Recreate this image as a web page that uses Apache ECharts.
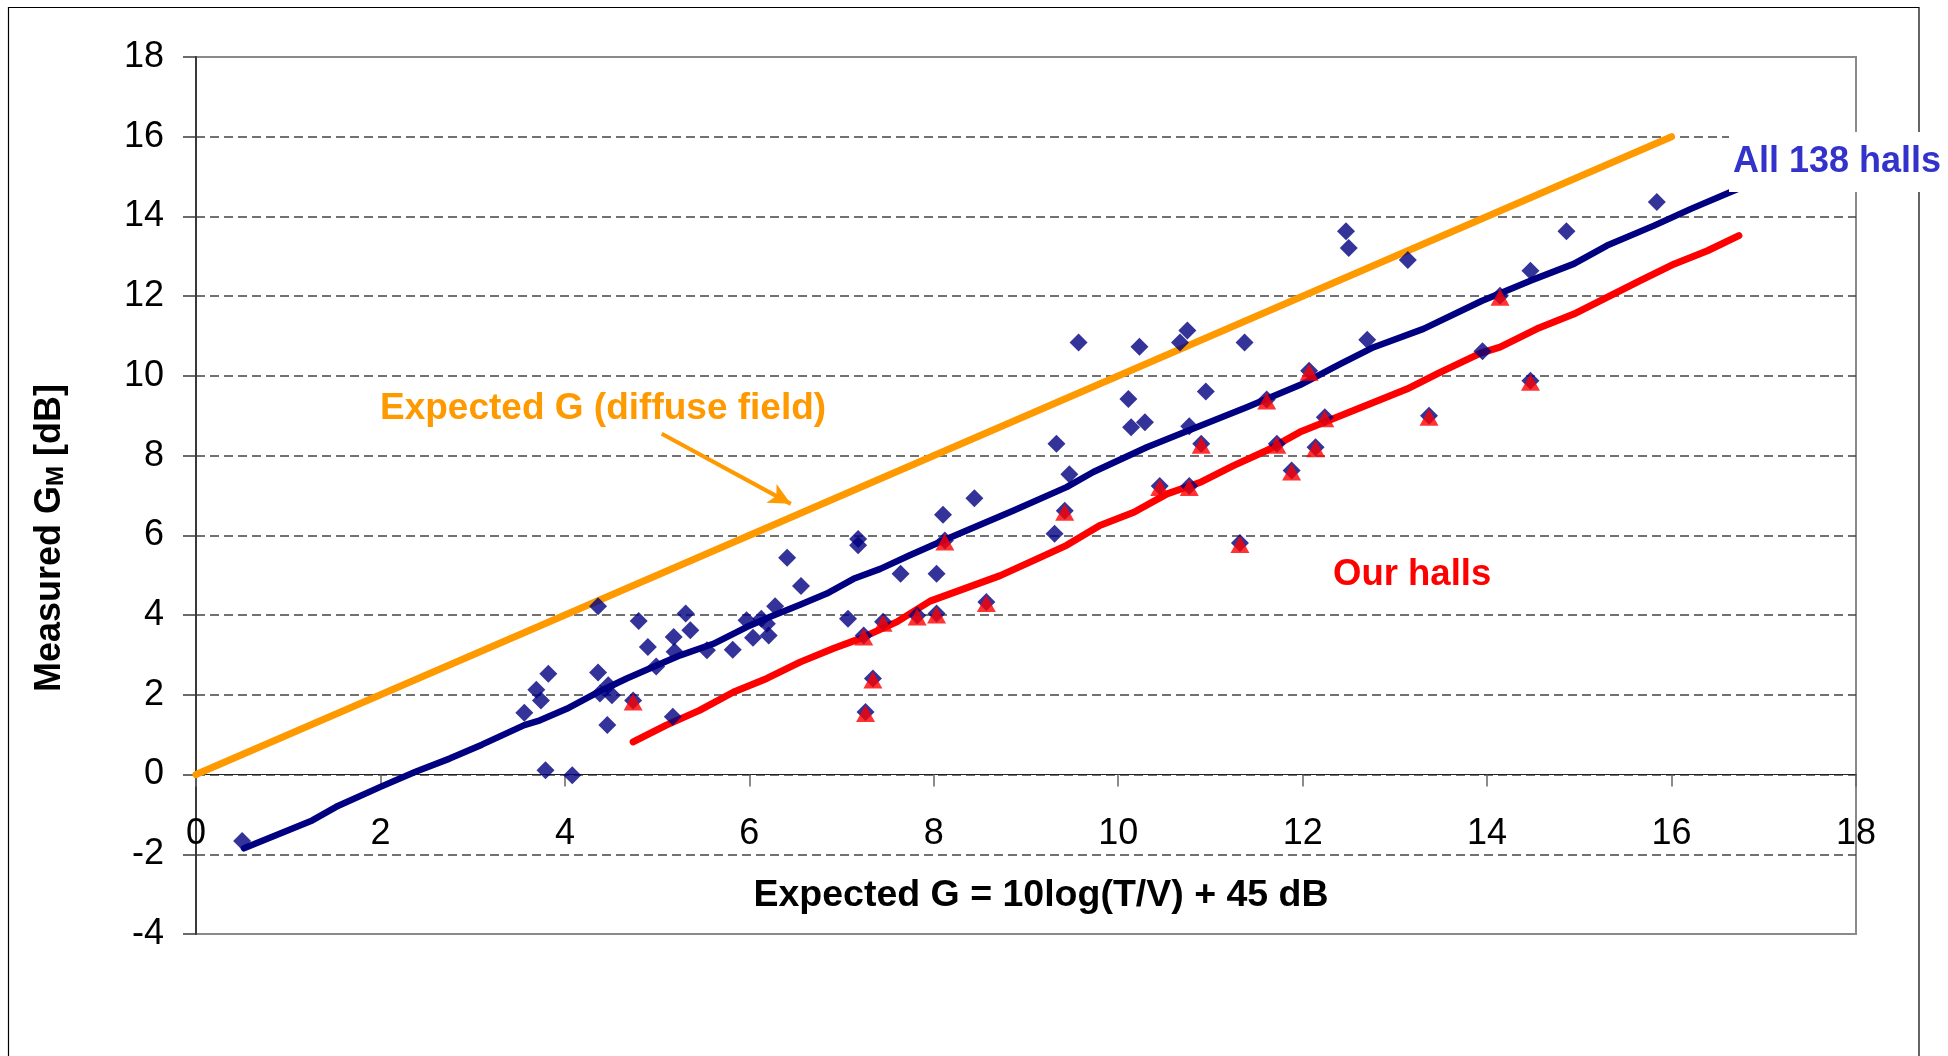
<!DOCTYPE html>
<html><head><meta charset="utf-8">
<script src="https://cdn.jsdelivr.net/npm/echarts@6/dist/echarts.min.js"></script>
<style>html,body{margin:0;padding:0;background:#fff}#c{width:1948px;height:1056px}</style>
</head><body><div id="c"></div>
<script>
// ---- data ----
const xTicks = [0, 2, 4, 6, 8, 10, 12, 14, 16, 18];
const yTicks = [-4, -2, 0, 2, 4, 6, 8, 10, 12, 14, 16, 18];

// All 138 halls (navy diamonds)
const allHallsX = [0.50, 3.56, 3.69, 3.74, 3.82, 3.79, 4.08, 4.36, 4.36, 4.80, 4.90, 5.31, 5.18, 5.36, 5.19, 4.99, 5.54, 5.82,
  4.47, 4.38, 4.51, 4.46, 4.74, 5.17, 5.97, 6.13, 6.19, 6.28, 6.04, 6.21, 6.41, 6.56, 7.07, 7.18, 7.18, 7.64,
  7.45, 7.24, 7.34, 7.26, 7.82, 8.03, 8.10, 8.12, 8.44, 8.03, 8.57, 9.33, 9.47, 9.42, 9.31, 10.11, 10.14, 10.29,
  10.95, 10.77, 10.90, 10.45, 10.77, 11.32, 11.61, 11.72, 11.88, 9.57, 10.23, 10.67, 10.75, 11.37, 12.47, 12.50,
  13.14, 12.70, 12.07, 12.24, 12.14, 13.37, 14.47, 15.84, 14.86, 14.47, 14.14, 13.95];
const allHallsY = [-1.67, 1.55, 2.13, 1.86, 2.53, 0.11, -0.02, 4.22, 2.56, 3.85, 3.20, 4.04, 3.45, 3.62, 3.08, 2.71, 3.12, 3.13,
  2.24, 2.03, 1.99, 1.24, 1.86, 1.45, 3.87, 3.91, 3.78, 4.22, 3.43, 3.49, 5.44, 4.73, 3.91, 5.91, 5.75, 5.04,
  3.83, 3.49, 2.41, 1.57, 3.99, 5.04, 6.52, 5.87, 6.93, 4.04, 4.33, 8.30, 7.53, 6.62, 6.04, 9.42, 8.71, 8.84,
  9.61, 8.74, 8.30, 7.24, 7.24, 5.81, 9.41, 8.30, 7.63, 10.84, 10.73, 10.84, 11.14, 10.84, 13.63, 13.21,
  12.91, 10.91, 10.13, 8.96, 8.21, 9.00, 9.88, 14.36, 13.63, 12.64, 12.01, 10.62];

// Our halls (red triangles)
const ourHallsX = [4.74, 7.24, 7.26, 7.34, 7.45, 7.82, 8.03, 8.12, 8.57, 9.42, 10.45, 10.77, 10.90, 11.32, 11.61, 11.72,
  11.88, 12.07, 12.14, 12.24, 13.37, 14.14, 14.47];
const ourHallsY = [1.86, 3.49, 1.57, 2.41, 3.83, 3.99, 4.04, 5.87, 4.33, 6.62, 7.24, 7.24, 8.30, 5.81, 9.41, 8.30,
  7.63, 10.13, 8.21, 8.96, 9.00, 12.01, 9.88];

// Trend line, all 138 halls
const trendAllX = [0.52, 1.26, 1.52, 2.00, 2.38, 2.75, 3.10, 3.56, 3.73, 4.02, 4.38, 4.67, 5.00, 5.25, 5.61, 5.97, 6.22,
  6.55, 6.84, 7.13, 7.42, 7.74, 8.14, 8.86, 9.44, 9.73, 10.31, 10.85, 11.40, 11.97, 12.41, 12.77, 13.31, 13.94,
  14.47, 14.94, 15.30, 15.81, 16.21, 16.73];
const trendAllY = [-1.85, -1.15, -0.81, -0.31, 0.07, 0.40, 0.75, 1.24, 1.36, 1.65, 2.09, 2.41, 2.74, 2.99, 3.28, 3.70, 3.95,
  4.26, 4.54, 4.91, 5.16, 5.50, 5.91, 6.62, 7.21, 7.59, 8.21, 8.71, 9.22, 9.77, 10.30, 10.72, 11.18, 11.88,
  12.39, 12.81, 13.27, 13.77, 14.19, 14.70];

// Trend line, our halls
const trendOurX = [4.74, 5.10, 5.46, 5.83, 6.19, 6.55, 6.91, 7.20, 7.60, 7.96, 8.72, 9.12, 9.44, 9.80, 10.17, 10.53,
  10.90, 11.25, 11.61, 11.97, 12.41, 13.13, 13.49, 13.93, 14.14, 14.54, 14.94, 15.30, 15.66, 16.03, 16.39, 16.73];
const trendOurY = [0.82, 1.24, 1.61, 2.07, 2.41, 2.82, 3.16, 3.41, 3.83, 4.35, 4.99, 5.41, 5.75, 6.25, 6.58, 7.04,
  7.34, 7.75, 8.13, 8.59, 9.00, 9.67, 10.09, 10.57, 10.72, 11.18, 11.55, 11.97, 12.39, 12.81, 13.14, 13.52];

// Expected G (diffuse field)
const diffuseX = [0, 16];
const diffuseY = [0, 16];

// ---- chart ----
const zip = (a, b) => a.map((v, i) => [v, b[i]]);
const F = "'Liberation Sans', Arial, Helvetica, sans-serif";
const GRID = {left: 196, right: 92, top: 57, bottom: 122};
const plotH = 1056 - GRID.top - GRID.bottom;
const yMin = yTicks[0], yMax = yTicks[yTicks.length - 1];
// move the x axis (line, ticks, labels) up to the y = 0 level
const xAxisOffset = -plotH * (0 - yMin) / (yMax - yMin);

const chart = echarts.init(document.getElementById('c'), null, {renderer: 'canvas'});

chart.setOption({
  backgroundColor: '#ffffff',
  animation: false,
  grid: Object.assign({show: true, borderColor: '#8a8a8a', borderWidth: 2, backgroundColor: 'transparent'}, GRID),
  xAxis: {
    type: 'value', min: xTicks[0], max: xTicks[xTicks.length - 1], interval: 2,
    position: 'bottom', offset: xAxisOffset,
    axisLine: {onZero: false, lineStyle: {color: '#222', width: 1.2}},
    axisTick: {show: true, length: 12, lineStyle: {color: '#666', width: 1.5}},
    axisLabel: {fontFamily: F, fontSize: 36, color: '#000', margin: 42, formatter: v => xTicks.includes(v) ? String(v) : ''},
    splitLine: {show: false}
  },
  yAxis: {
    type: 'value', min: yMin, max: yMax, interval: 2,
    axisLine: {show: true, onZero: false, lineStyle: {color: '#3a3a3a', width: 2}},
    axisTick: {show: true, length: 13, lineStyle: {color: '#3a3a3a', width: 1.5}},
    axisLabel: {fontFamily: F, fontSize: 36, color: '#000', margin: 32, formatter: v => yTicks.includes(v) ? String(v) : ''},
    splitLine: {show: true, showMinLine: false, showMaxLine: false, lineStyle: {color: '#444', width: 1.5, type: [9, 5]}}
  },
  series: [
    {
      name: 'Expected G (diffuse field)', type: 'line', data: zip(diffuseX, diffuseY),
      showSymbol: false, lineStyle: {color: '#FF9900', width: 7, cap: 'round'}, z: 2,
      markLine: {
        silent: true, symbol: ['none', 'arrow'], symbolSize: [16, 22], animation: false,
        label: {show: false},
        lineStyle: {color: '#FF9900', width: 4, type: 'solid'},
        data: [[{coord: [5.05, 8.55]}, {coord: [6.45, 6.79]}]]
      }
    },
    {
      name: 'All 138 halls trend', type: 'line', data: zip(trendAllX, trendAllY),
      showSymbol: false, lineStyle: {color: '#000080', width: 6.5, cap: 'round', join: 'round'}, z: 3
    },
    {
      name: 'Our halls trend', type: 'line', data: zip(trendOurX, trendOurY),
      showSymbol: false, lineStyle: {color: '#FF0000', width: 7, cap: 'round', join: 'round'}, z: 3
    },
    {
      name: 'All 138 halls', type: 'scatter', data: zip(allHallsX, allHallsY),
      symbol: 'diamond', symbolSize: 18, itemStyle: {color: '#000080'}, z: 4
    },
    {
      name: 'Our halls', type: 'scatter', data: zip(ourHallsX, ourHallsY),
      symbol: 'triangle', symbolSize: [19, 17], symbolOffset: [0, 1.5], itemStyle: {color: '#FF0000'}, z: 5
    }
  ],
  graphic: [
    {type: 'rect', z: 1, shape: {x: 8.5, y: 7.5, width: 1910.5, height: 1200}, style: {fill: 'none', stroke: '#000', lineWidth: 1.2}, silent: true},
    {type: 'text', z: 100, x: 1729, y: 162, style: {text: 'All 138 halls', fill: '#3333CC', fontFamily: F, fontWeight: 'bold', fontSize: 36, align: 'left', verticalAlign: 'middle', backgroundColor: '#fff', padding: [12, 40, 12, 4]}},
    {type: 'text', z: 100, x: 380, y: 409, style: {text: 'Expected G (diffuse field)', fill: '#FF9900', fontFamily: F, fontWeight: 'bold', fontSize: 37, align: 'left', verticalAlign: 'middle'}},
    {type: 'text', z: 100, x: 1333, y: 575, style: {text: 'Our halls', fill: '#FF0000', fontFamily: F, fontWeight: 'bold', fontSize: 36.5, align: 'left', verticalAlign: 'middle'}},
    {type: 'text', z: 100, x: 1041, y: 896, style: {text: 'Expected G = 10log(T/V) + 45 dB', fill: '#000', fontFamily: F, fontWeight: 'bold', fontSize: 37.5, align: 'center', verticalAlign: 'middle'}},
    {type: 'text', z: 100, x: 50, y: 538, rotation: Math.PI / 2, style: {
      text: '{a|Measured G}{b|M}{a| [dB]}', align: 'center', verticalAlign: 'middle',
      rich: {
        a: {fontFamily: F, fontWeight: 'bold', fontSize: 36, fill: '#000', verticalAlign: 'bottom'},
        b: {fontFamily: F, fontWeight: 'bold', fontSize: 24, fill: '#000', verticalAlign: 'bottom'}
      }
    }}
  ]
});
</script>
</body></html>
